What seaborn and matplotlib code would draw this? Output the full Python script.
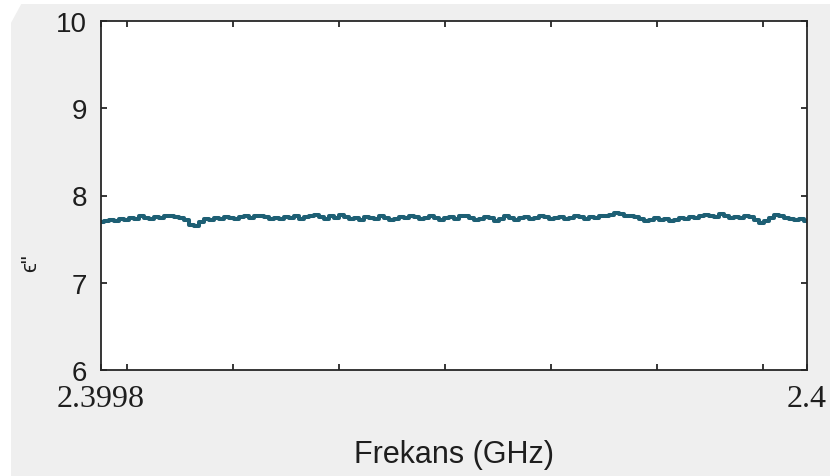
import numpy as np
import pandas as pd
import matplotlib
matplotlib.use("Agg")
import matplotlib.pyplot as plt
from matplotlib.patches import Rectangle, Polygon
import seaborn as sns

# Frequency sweep limits (GHz)
freq_start = 2.3998
freq_stop = 2.4

# Imaginary part of the permittivity along the sweep
eps_imag = [
    7.70, 7.71, 7.72, 7.71, 7.73, 7.72, 7.74, 7.73, 7.76, 7.74,
    7.73, 7.75, 7.74, 7.76, 7.77, 7.75, 7.74, 7.72, 7.66, 7.65,
    7.70, 7.73, 7.72, 7.74, 7.73, 7.75, 7.74, 7.73, 7.75, 7.76,
    7.74, 7.76, 7.77, 7.75, 7.73, 7.74, 7.73, 7.75, 7.74, 7.76,
    7.73, 7.75, 7.77, 7.78, 7.75, 7.73, 7.76, 7.74, 7.78, 7.75,
    7.73, 7.74, 7.72, 7.75, 7.74, 7.73, 7.76, 7.74, 7.72, 7.73,
    7.75, 7.74, 7.76, 7.75, 7.73, 7.74, 7.76, 7.74, 7.72, 7.74,
    7.75, 7.73, 7.76, 7.77, 7.74, 7.72, 7.73, 7.75, 7.74, 7.71,
    7.73, 7.76, 7.74, 7.72, 7.74, 7.75, 7.73, 7.74, 7.76, 7.75,
    7.73, 7.74, 7.75, 7.73, 7.74, 7.76, 7.75, 7.73, 7.75, 7.74,
    7.76, 7.77, 7.78, 7.80, 7.79, 7.76, 7.77, 7.75, 7.73, 7.71,
    7.72, 7.74, 7.72, 7.73, 7.71, 7.72, 7.74, 7.73, 7.75, 7.74,
    7.76, 7.78, 7.77, 7.75, 7.79, 7.76, 7.74, 7.75, 7.74, 7.77,
    7.75, 7.72, 7.69, 7.71, 7.74, 7.78, 7.76, 7.74, 7.73, 7.72,
    7.73, 7.71,
]

# Axis ticks
y_ticks = [6, 7, 8, 9, 10]
x_minor_marks = [2.3998074 + k * 0.00003 for k in range(7)]
x_tick_labels = ["2.3998", "2.4"]

freq = np.linspace(freq_start, freq_stop, len(eps_imag))
df = pd.DataFrame({"freq": freq, "eps": eps_imag})

sns.set_theme(style="white")
plt.rcParams["font.family"] = ["Liberation Sans", "DejaVu Sans"]

fig = plt.figure(figsize=(8.38, 4.77), dpi=100, facecolor="white")

# light grey panel behind the plot
fig.patches.append(Rectangle((11 / 838, 0), (830 - 11) / 838, 1 - 5 / 477,
                             transform=fig.transFigure, facecolor="#efefef",
                             edgecolor="none", zorder=-10))
fig.patches.append(Polygon([(0, 1), (24 / 838, 1), (0, 1 - 44 / 477)],
                           closed=True, transform=fig.transFigure,
                           facecolor="white", edgecolor="none", zorder=-9))

ax = fig.add_axes([101 / 838, 1 - 371 / 477, (807 - 101) / 838, (371 - 22) / 477])
ax.set_facecolor("white")

sns.lineplot(data=df, x="freq", y="eps", ax=ax, color="#1d5f74",
             linewidth=2.9, drawstyle="steps-mid", estimator=None)

ax.set_xlim(freq_start, freq_stop)
ax.set_ylim(6, 10)
ax.set_yticks(y_ticks)
ax.set_yticklabels([str(t) for t in y_ticks], fontsize=20, color="#1e1e1e")

ticks_x = [freq_start] + x_minor_marks + [freq_stop]
ax.set_xticks(ticks_x)
ax.set_xticklabels([x_tick_labels[0]] + [""] * len(x_minor_marks) + [x_tick_labels[1]],
                   fontsize=23, family=["Liberation Serif"], color="#1e1e1e")

ax.tick_params(axis="both", direction="in", length=4, width=1.3, color="#262626",
               top=True, right=True, bottom=True, left=True)
ax.tick_params(axis="y", pad=10)
ax.tick_params(axis="x", pad=10)

for s in ax.spines.values():
    s.set_visible(True)
    s.set_color("#262626")
    s.set_linewidth(1.3)

ax.set_xlabel("Frekans (GHz)", fontsize=22, color="#1e1e1e", labelpad=19)
ax.set_ylabel("\u03f5\"", fontsize=16, color="#1e1e1e")
ax.yaxis.set_label_coords(-0.085, 0.31)

fig.savefig("out.png", dpi=100, facecolor=fig.get_facecolor())
